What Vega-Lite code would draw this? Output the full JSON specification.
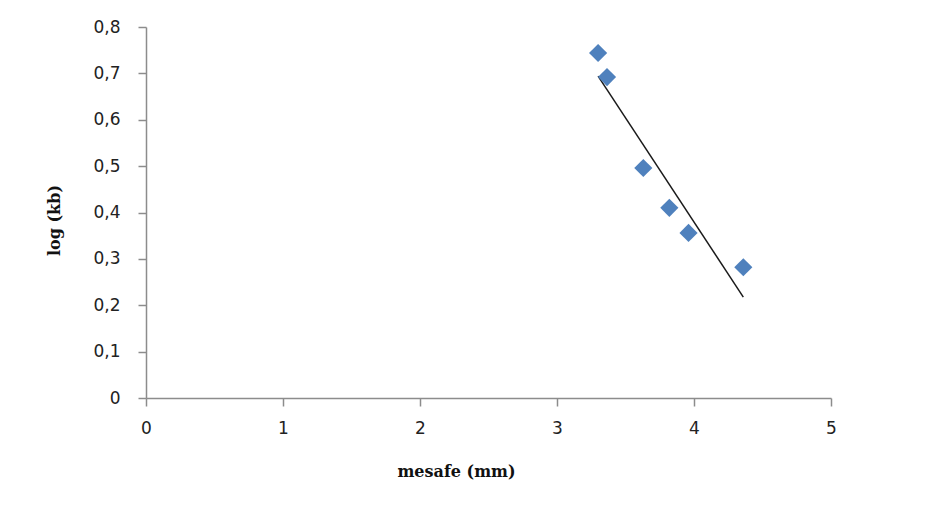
{
  "$schema": "https://vega.github.io/schema/vega-lite/v6.json",
  "autosize": "none",
  "width": 685,
  "height": 371,
  "padding": {"left": 146, "top": 27, "right": 110, "bottom": 112},
  "background": "white",
  "data": {
    "values": [
      {"mesafe": 3.30, "logkb": 0.744},
      {"mesafe": 3.365, "logkb": 0.692},
      {"mesafe": 3.63, "logkb": 0.496},
      {"mesafe": 3.82, "logkb": 0.410},
      {"mesafe": 3.96, "logkb": 0.356},
      {"mesafe": 4.36, "logkb": 0.282}
    ]
  },
  "layer": [
    {
      "transform": [{"regression": "logkb", "on": "mesafe"}],
      "mark": {"type": "line", "color": "#1a1a1a", "strokeWidth": 1.5},
      "encoding": {
        "x": {"field": "mesafe", "type": "quantitative"},
        "y": {"field": "logkb", "type": "quantitative"}
      }
    },
    {
      "mark": {"type": "point", "shape": "diamond", "filled": true, "size": 330, "color": "#4F81BD", "opacity": 1},
      "encoding": {
        "x": {
          "field": "mesafe",
          "type": "quantitative",
          "scale": {"domain": [0, 5], "nice": false, "zero": true},
          "axis": {
            "title": "mesafe (mm)",
            "values": [0, 1, 2, 3, 4, 5],
            "format": "d",
            "grid": false,
            "domainColor": "#8c8c8c",
            "domainWidth": 1.5,
            "tickColor": "#8c8c8c",
            "tickWidth": 1.5,
            "tickSize": 8,
            "labelPadding": 14,
            "labelFont": "DejaVu Sans",
            "labelFontSize": 17,
            "labelColor": "#222222",
            "labelFlush": false,
            "titleFont": "DejaVu Serif",
            "titleFontWeight": "bold",
            "titleFontSize": 16,
            "titleColor": "#111111",
            "titleX": 310,
            "titlePadding": 27
          }
        },
        "y": {
          "field": "logkb",
          "type": "quantitative",
          "scale": {"domain": [0, 0.8], "nice": false},
          "axis": {
            "title": "log (kb)",
            "values": [0, 0.1, 0.2, 0.3, 0.4, 0.5, 0.6, 0.7, 0.8],
            "labelExpr": "datum.value == 0 ? '0' : replace(format(datum.value, '.1f'), '.', ',')",
            "grid": false,
            "domainColor": "#8c8c8c",
            "domainWidth": 1.5,
            "tickColor": "#8c8c8c",
            "tickWidth": 1.5,
            "tickSize": 8,
            "labelPadding": 18,
            "labelFont": "DejaVu Sans",
            "labelFontSize": 17,
            "labelColor": "#222222",
            "labelFlush": false,
            "titleFont": "DejaVu Serif",
            "titleFontWeight": "bold",
            "titleFontSize": 16,
            "titleColor": "#111111",
            "titleX": -84,
            "titleY": 193
          }
        }
      }
    }
  ],
  "config": {
    "view": {"stroke": null}
  }
}
